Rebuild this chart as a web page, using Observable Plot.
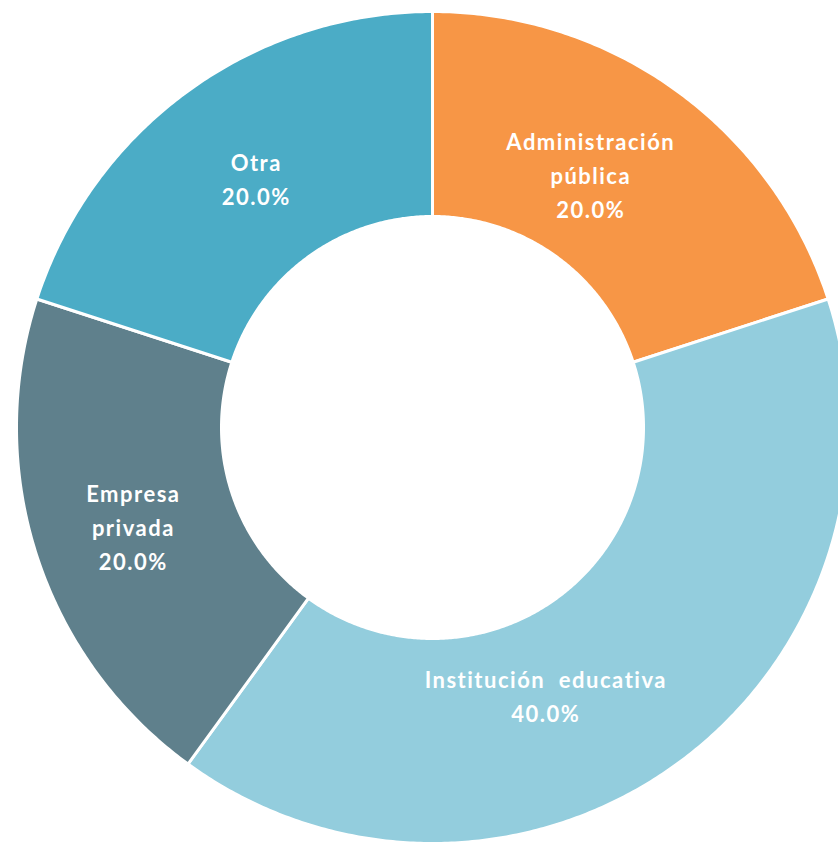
<!DOCTYPE html>
<html>
<head>
<meta charset="utf-8">
<script src="https://cdn.jsdelivr.net/npm/d3@7"></script>
<script src="https://cdn.jsdelivr.net/npm/@observablehq/plot@0.6"></script>
<style>
  html, body { margin: 0; padding: 0; background: #fff; }
  #chart svg { display: block; }
</style>
</head>
<body>
<div id="chart"></div>
<script>
// ---- data ----
const categories = ["Administración pública", "Institución educativa", "Empresa privada", "Otra"];
const labelLines = [["Administración", "pública"], ["Institución  educativa"], ["Empresa", "privada"], ["Otra"]];
const shares = [20.0, 40.0, 20.0, 20.0];
const colors = ["#F79646", "#93CDDD", "#5F808C", "#4BACC6"];

// ---- layout ----
const W = 838, H = 842;
const cx = 432, cy = 427, Rpx = 416;
const inner = 211 / 416;
const labelR = (1 + inner) / 2;
// label nudges in pixels (Excel's label placement)
const nudge = {
  "Administración pública": [-26, -1],
  "Institución educativa": [-71, 13],
  "Empresa privada": [-1, 1],
  "Otra": [8, 3]
};

const rows = categories.map((c, i) => ({category: c, value: shares[i], lines: labelLines[i]}));
const arcs = d3.pie().sort(null).value(d => d.value).startAngle(0).endAngle(2 * Math.PI)(rows);

const poly = [];
const labels = [];
for (const a of arcs) {
  const n = Math.max(8, Math.round((a.endAngle - a.startAngle) * 120));
  const pts = [];
  for (let k = 0; k <= n; k++) {
    const t = a.startAngle + (a.endAngle - a.startAngle) * k / n;
    pts.push([Math.sin(t), Math.cos(t)]);
  }
  for (let k = n; k >= 0; k--) {
    const t = a.startAngle + (a.endAngle - a.startAngle) * k / n;
    pts.push([inner * Math.sin(t), inner * Math.cos(t)]);
  }
  pts.push(pts[0]);
  for (const [x, y] of pts) poly.push({category: a.data.category, x, y});
  const m = (a.startAngle + a.endAngle) / 2;
  const [nx, ny] = nudge[a.data.category];
  labels.push({
    category: a.data.category,
    x: labelR * Math.sin(m) + nx / Rpx,
    y: labelR * Math.cos(m) - ny / Rpx,
    text: [...a.data.lines, a.data.value.toFixed(1) + "%"].join("\n")
  });
}

const chart = Plot.plot({
  width: W,
  height: H,
  margin: 0,
  style: {background: "#fff", fontFamily: "Lato, 'Open Sans', sans-serif"},
  x: {domain: [-cx / Rpx, (W - cx) / Rpx], axis: null},
  y: {domain: [-(H - cy) / Rpx, cy / Rpx], axis: null},
  color: {domain: categories, range: colors},
  marks: [
    Plot.line(poly, {x: "x", y: "y", z: "category", fill: "category", stroke: "#fff", strokeWidth: 3, curve: "linear"}),
    Plot.text(labels, {
      x: "x", y: "y", text: "text",
      fill: "#fff", fontSize: 22, fontWeight: "bold",
      lineHeight: 1.55, lineAnchor: "middle", textAnchor: "middle",
      fontFamily: "Lato, sans-serif",
      stroke: null
    })
  ]
});
chart.querySelectorAll("text").forEach(t => t.style.letterSpacing = "1.5px");
document.getElementById("chart").append(chart);
</script>
</body>
</html>
